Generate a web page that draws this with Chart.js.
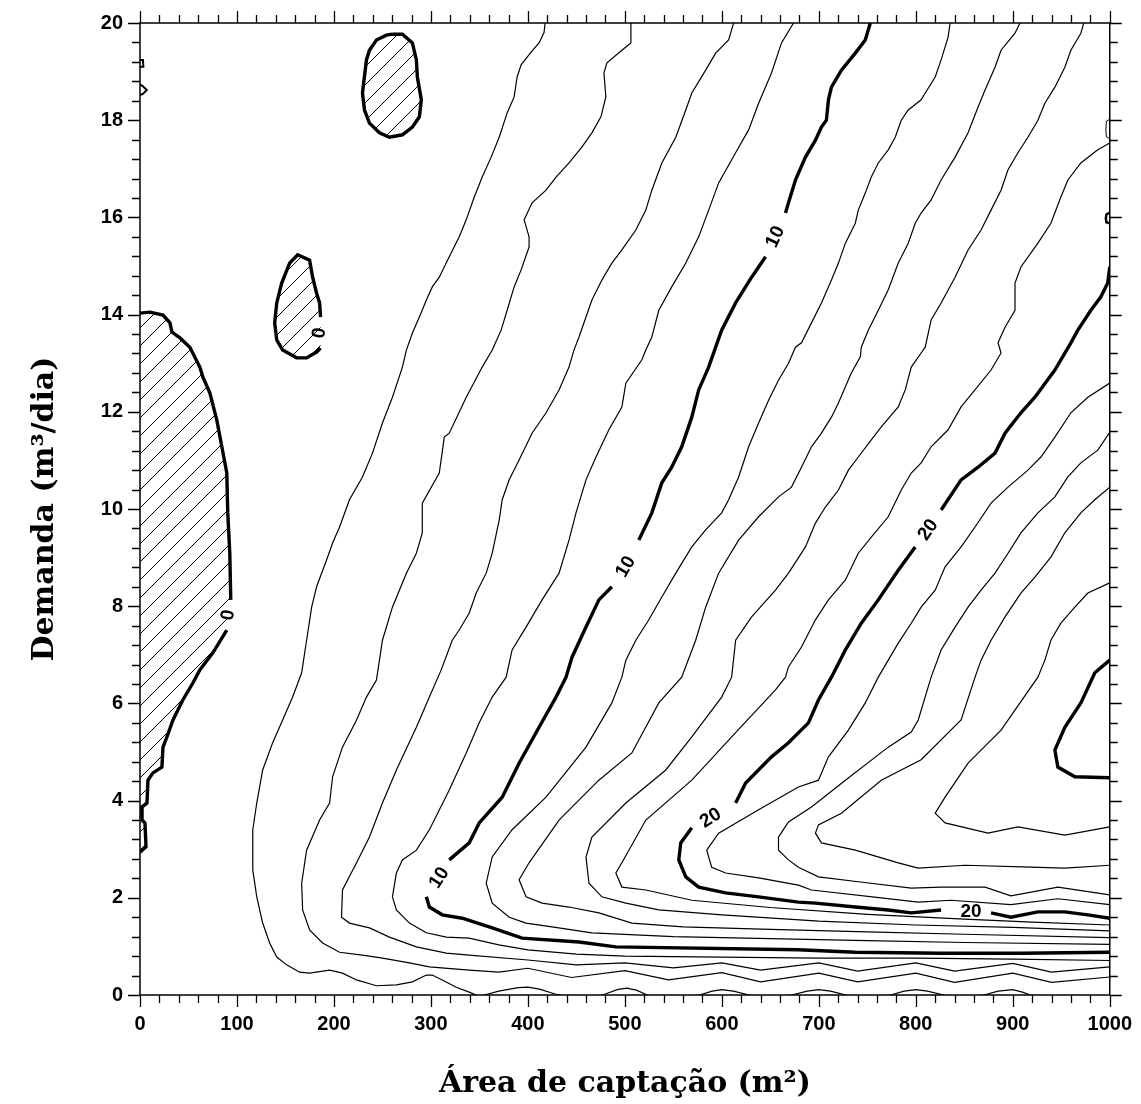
<!DOCTYPE html>
<html><head><meta charset="utf-8">
<script src="https://cdn.jsdelivr.net/npm/chart.js@4.4.0/dist/chart.umd.min.js"></script>
<style>html,body{margin:0;padding:0;background:#fff;}canvas{display:block;}</style>
</head><body>
<canvas id="c" width="1141" height="1104"></canvas>
<script>
// ---------- DATA ----------
const xTicks = [0,100,200,300,400,500,600,700,800,900,1000];
const yTicks = [0,2,4,6,8,10,12,14,16,18,20];
const xMinorStep = 20, yMinorStep = 0.4;

// contour 0 (negative region boundaries)
const c0LeftA = [[0,14.03],[10.3,14.05],[23.7,13.99],[30.9,13.83],[32.9,13.64],[41.2,13.52],[51.4,13.33],[61.7,12.92],[64.8,12.72],[72,12.39],[79.2,11.83],[84.4,11.28],[89.5,10.74],[90.5,9.92],[92.6,9.09],[93.6,8.13]];
const c0LeftB = [[89.5,7.51],[75.1,7.04],[61.7,6.69],[54.5,6.42],[44.2,6.07],[34,5.66],[27.8,5.31],[23.7,5.1],[22.6,4.69],[13.4,4.57],[8.2,4.42],[7.2,3.95],[2.1,3.87],[2.1,3.6],[5.1,3.54],[6.2,3.05],[0,2.94]];
const c0Island1 = [[260.3,19.77],[270.6,19.77],[280.9,19.59],[285,19.24],[286,18.89],[290.1,18.42],[288.1,18.07],[280.9,17.86],[270.6,17.7],[257.2,17.65],[246.9,17.74],[236.6,17.94],[231.5,18.21],[229.4,18.56],[233.5,19.24],[236.6,19.44],[243.8,19.65],[254.1,19.75],[260.3,19.77]];
const c0Island2 = [[186.2,13.31],[182.1,13.23],[171.8,13.11],[161.5,13.11],[147.1,13.27],[141,13.48],[138.9,13.83],[141,14.24],[146.1,14.65],[154.3,15.06],[162.6,15.23],[174.9,15.12],[178,14.77],[182.1,14.44],[185.2,14.24],[186.2,13.95]];
const c0TinyA = [[0,19.24],[3,19.24],[3.5,19.1],[0,19.1]];
const c0TinyB = [[0,18.74],[3,18.7],[7,18.62],[3,18.54],[0,18.52]];
const cTinyC = [[1000,18.02],[996.5,17.98],[996,17.8],[996.5,17.66],[1000,17.62]];
const cTinyD = [[1000,16.1],[996.5,16.06],[996,15.98],[996.5,15.9],[1000,15.88]];

const c2 = [[417.7,20],[416.7,19.81],[411.5,19.59],[403.3,19.4],[393,19.14],[388.9,18.89],[385.8,18.48],[378.6,18.15],[370.4,17.65],[362.1,17.24],[352.9,16.83],[344.7,16.42],[336.4,15.95],[329.2,15.6],[318.9,15.19],[308.6,14.77],[301.4,14.57],[295.3,14.3],[288.1,13.95],[280.9,13.62],[274.7,13.27],[270.6,12.92],[260.3,12.3],[250,11.77],[239.7,11.15],[229.4,10.66],[216,10.19],[205.8,9.63],[198.6,9.3],[192.4,8.95],[182.1,8.4],[177,7.98],[171.8,7.3],[166.7,6.63],[157.4,6.13],[147.1,5.66],[136.8,5.19],[126.5,4.63],[120.4,3.95],[116.3,3.4],[116.3,2.57],[120.4,2.02],[126.5,1.48],[133.7,1.07],[141,0.78],[151.2,0.62],[164.6,0.47],[174.9,0.45],[195.5,0.51],[208.8,0.45],[223.3,0.31],[243.8,0.19],[264.4,0.21],[280.9,0.27],[295.3,0.41],[301.4,0.41],[311.7,0.31],[326.1,0.16],[339.5,0.06],[350,-0.03],[370,0.08],[390,0.15],[400,0.16],[412,0.12],[428,0.02],[445,-0.06],[470,-0.04],[480,0.02],[492,0.11],[502,0.14],[512,0.1],[523,0],[550,-0.08],[577,0],[590,0.08],[600,0.11],[612,0.08],[628,0],[650,-0.08],[672,0],[688,0.08],[700,0.11],[712,0.08],[728,0],[750,-0.08],[774,0],[788,0.08],[800,0.11],[812,0.08],[829,0],[850,-0.08],[870,0],[885,0.08],[900,0.11],[910,0.06],[918,0],[950,-0.08],[1000,-0.1]];
const c4 = [[506.2,20],[506.2,19.59],[496.9,19.44],[481.5,19.18],[478.4,18.97],[480.4,18.48],[475.3,18.07],[466,17.74],[455.8,17.45],[442.4,17.12],[429,16.83],[418.7,16.56],[404.3,16.3],[396.1,15.95],[401.2,15.6],[401.2,15.39],[393,14.92],[385.8,14.57],[378.6,14.09],[372.4,13.68],[363.2,13.27],[352.9,12.92],[336.4,12.3],[318.9,11.56],[313.8,11.48],[308.6,10.74],[291.1,10.12],[291.1,9.51],[285,9.09],[274.7,8.68],[260.3,7.98],[250,7.3],[243.8,6.48],[233.5,6.13],[223.3,5.66],[208.8,5.1],[198.6,4.49],[195.5,3.95],[185.2,3.6],[171.8,2.98],[166.7,2.3],[167.7,1.75],[174.9,1.34],[188.3,1.07],[205.8,0.88],[229.4,0.82],[250,0.76],[277.8,0.66],[298.4,0.58],[339.5,0.51],[370,0.47],[400,0.55],[445,0.36],[500,0.5],[545,0.31],[600,0.46],[640,0.27],[700,0.45],[740,0.27],[800,0.45],[840,0.26],[900,0.45],[940,0.26],[1000,0.37]];
const c6 = [[612.1,20],[607,19.65],[593.6,19.38],[583.3,19.03],[569,18.56],[562.8,18.21],[552.5,17.65],[538.1,17.12],[527.8,16.56],[521.6,16.15],[511.3,15.74],[496.9,15.33],[486.6,15.06],[476.3,14.71],[466,14.3],[459.9,13.95],[452.7,13.54],[447.5,13.27],[442.4,12.92],[432.1,12.45],[418.7,11.98],[404.3,11.56],[390.9,11.01],[380.7,10.6],[373.5,10.19],[370.4,9.77],[363.2,9.09],[357,8.68],[346.7,8.27],[339.5,7.86],[329.2,7.51],[322,7.3],[310.6,6.69],[298.4,6.13],[285,5.51],[264.4,4.63],[250,3.95],[236.6,3.25],[223.3,2.72],[208.8,2.16],[207.8,1.6],[216,1.48],[236.6,1.38],[257.2,1.19],[285,0.99],[315.8,0.86],[339.5,0.82],[400,0.72],[450,0.62],[500,0.66],[550,0.56],[600,0.66],[640,0.51],[700,0.66],[740,0.49],[800,0.66],[840,0.49],[900,0.65],[940,0.47],[1000,0.58]];
const c8 = [[673.9,20],[661.5,19.59],[651.2,18.97],[637.9,18.35],[627.6,17.8],[614.2,17.33],[596.7,16.71],[586.4,16.15],[576.1,15.6],[562.8,15.06],[548.3,14.57],[535,14.09],[527.8,13.54],[521.6,13.27],[517.5,13.07],[501,12.59],[496.9,12.1],[483.5,11.63],[470.2,11.07],[459.9,10.6],[449.6,9.92],[442.4,9.36],[432.1,8.68],[414.6,8.13],[398.1,7.57],[383.7,7.1],[377.6,6.54],[363.2,6.13],[349.8,5.6],[336.4,4.98],[318.9,4.22],[298.4,3.4],[285,2.98],[270.6,2.78],[264.4,2.51],[260.3,2.02],[264.4,1.75],[277.8,1.48],[295.3,1.28],[315.8,1.19],[339.5,1.17],[370,1.03],[400,0.93],[450,0.84],[500,0.8],[600,0.78],[700,0.76],[800,0.76],[900,0.74],[1000,0.71]];
const c10a = [[753.1,20],[747.9,19.65],[737.6,19.38],[723.3,19.03],[713,18.68],[709.9,18.42],[707.8,18],[702.7,17.86],[696.5,17.59],[686.2,17.24],[675.9,16.77],[668.7,16.3],[665.6,16.09]];
const c10b = [[645.1,15.19],[630.7,14.77],[614.2,14.24],[599.8,13.68],[593.6,13.33],[586.4,12.92],[576.1,12.45],[569,11.89],[558.6,11.28],[548.3,10.86],[538.1,10.54],[527.8,9.92],[514.4,9.36]];
const c10c = [[486.6,8.4],[473.2,8.13],[459.9,7.57],[445.5,6.95],[439.3,6.54],[429,6.13],[411.5,5.51],[390.9,4.77],[373.5,4.07],[349.8,3.54],[339.5,3.13],[318.9,2.78]];
const c10d = [[295.3,2.02],[298.4,1.81],[311.7,1.65],[332.3,1.58],[363.2,1.38],[394,1.17],[452.7,1.09],[490.7,0.99],[679,0.93],[737.6,0.88],[826.1,0.86],[908.4,0.86],[1000,0.88]];
const c12 = [[835.4,20],[833.3,19.71],[826.1,19.24],[820,18.89],[809.7,18.56],[805.5,18.42],[792.2,18.21],[785,18],[778.8,17.65],[771.6,17.39],[761.3,17.12],[754.1,16.83],[747.9,16.5],[740.7,16.15],[737.6,15.88],[727.4,15.47],[720.2,15.06],[713,14.71],[702.7,14.24],[692.4,13.83],[682.1,13.42],[675.9,13.33],[668.7,13],[658.4,12.65],[648.2,12.24],[637.9,11.77],[627.6,11.28],[617.3,10.66],[607,10.19],[599.8,9.92],[583.3,9.57],[569,9.22],[552.5,8.68],[538.1,8.19],[524.7,7.72],[511.3,7.3],[501,6.89],[496.9,6.54],[486.6,6.01],[459.9,5.1],[418.7,4.07],[383.7,3.4],[363.2,2.84],[357,2.3],[363.2,1.89],[380.7,1.6],[398.1,1.48],[424.9,1.4],[466,1.28],[550,1.2],[650,1.16],[750,1.12],[850,1.08],[1000,1.04]];
const c14 = [[907.4,20],[902.3,19.79],[887.9,19.44],[881.7,19.09],[871.4,18.62],[864.2,18.27],[853.9,17.74],[840.5,17.24],[826.1,16.77],[815.8,16.36],[805.5,16.09],[799.4,15.88],[792.2,15.47],[781.9,15.06],[771.6,14.51],[761.3,14.09],[751,13.68],[743.8,13.33],[742.8,13.13],[733.5,12.8],[720.2,12.18],[713,11.89],[702.7,11.56],[692.4,11.28],[682.1,10.86],[671.8,10.45],[658.4,10.25],[637.9,9.84],[617.3,9.36],[596.7,8.68],[583.3,7.98],[573,7.3],[558.6,6.54],[535,6.01],[507.2,4.98],[473.2,4.42],[432.1,3.6],[401.2,2.72],[390.9,2.37],[398.1,2.02],[414.6,1.89],[442.4,1.81],[473.2,1.69],[507.2,1.48],[560,1.4],[650,1.35],[750,1.3],[850,1.25],[1000,1.18]];
const c16 = [[973.2,20],[970.2,19.79],[959.9,19.44],[953.7,19.09],[943.4,18.68],[933.1,18.35],[925.9,18],[915.6,17.65],[905.3,17.33],[895.1,16.98],[887.9,16.56],[877.6,16.15],[867.3,15.74],[853.9,15.33],[840.5,14.77],[826.1,14.24],[815.8,13.89],[809.7,13.33],[805.5,13.21],[795.3,12.92],[789.1,12.45],[781.9,12.1],[764.4,11.69],[754.1,11.42],[740.7,11.07],[730.5,10.8],[720.2,10.39],[706.8,10.04],[696.5,9.71],[686.2,9.22],[668.7,8.68],[655.3,8.33],[630.7,7.78],[614.2,7.3],[610.1,6.54],[599.8,6.13],[569,5.31],[542.2,4.63],[501,3.95],[466,3.25],[459.9,2.84],[463,2.3],[476.3,2.02],[501,1.89],[535,1.75],[600,1.65],[700,1.52],[800,1.44],[900,1.39],[1000,1.32]];
const c18 = [[1000,17.53],[987.6,17.39],[970.2,17.12],[956.8,16.77],[949.6,16.42],[939.3,15.88],[925.9,15.47],[908.4,14.98],[902.3,14.65],[902.3,14.09],[892,13.74],[884.8,13.42],[887.9,13.21],[877.6,12.86],[846.7,12.1],[833.3,11.63],[815.8,11.28],[805.5,10.95],[795.3,10.74],[785,10.39],[771.6,9.84],[754.1,9.42],[740.7,9.09],[727.4,8.54],[709.9,8.13],[696.5,7.72],[682.1,7.16],[668.7,6.75],[665.6,6.54],[655.3,6.28],[610.1,5.31],[569,4.42],[521.6,3.6],[496.9,2.72],[490.7,2.51],[496.9,2.22],[521.6,2.16],[569,1.95],[650,1.8],[750,1.66],[850,1.56],[920,1.5],[1000,1.44]];
const c20a = [[1000,14.98],[997.9,14.65],[990.7,14.36],[980.5,14.09],[967.1,13.68],[959.9,13.42],[943.4,12.86],[922.8,12.3],[908.4,11.98],[892,11.56],[881.7,11.15],[864.2,10.86],[846.7,10.6],[826.1,9.98]];
const c20b = [[799.4,9.22],[781.9,8.74],[761.3,8.13],[743.8,7.65],[727.4,7.1],[713,6.54],[699.6,6.07],[689.3,5.6],[668.7,5.19],[651.2,4.9],[624.5,4.36],[614.2,3.95]];
const c20c = [[569,3.44],[557.6,3.13],[555.6,2.78],[562.8,2.43],[576.1,2.22],[603.9,2.1],[637.9,2.02],[679,1.91],[696.5,1.89],[737.6,1.81],[771.6,1.75],[795.3,1.69],[826.1,1.75]];
const c20d = [[877.6,1.69],[898.1,1.6],[925.9,1.71],[953.7,1.71],[977.4,1.65],[1000,1.58]];
const c22 = [[1000,12.59],[977.4,12.3],[959.9,11.98],[943.4,11.48],[929,11.07],[915.6,10.8],[895.1,10.45],[877.6,10.12],[861.1,9.63],[846.7,9.22],[830.2,8.81],[820,8.33],[805.5,7.98],[795.3,7.65],[781.9,7.24],[771.6,6.89],[761.3,6.54],[747.9,6.01],[730.5,5.45],[709.9,4.9],[699.6,4.42],[679,4.28],[637.9,3.81],[596.7,3.33],[584.4,2.98],[589.5,2.63],[603.9,2.51],[637.9,2.41],[679,2.26],[692.4,2.16],[764.4,2],[802.5,1.91],[836.4,1.95],[898.1,1.86],[946.5,1.98],[1000,1.86]];
const c24 = [[1000,11.58],[987.6,11.21],[970.2,10.95],[956.8,10.66],[943.4,10.25],[925.9,9.92],[908.4,9.51],[895.1,9.09],[881.7,8.68],[867.3,8.33],[853.9,7.98],[840.5,7.57],[826.1,7.1],[815.8,6.54],[802.5,5.66],[795.3,5.41],[771.6,5.1],[727.4,4.42],[692.4,3.87],[668.7,3.56],[658.4,3.25],[658.4,2.98],[668.7,2.78],[679,2.63],[699.6,2.43],[740.7,2.33],[795.3,2.2],[826.1,2.22],[871.4,2.22],[898.1,2.04],[946.5,2.22],[1000,2.06]];
const c26 = [[1000,10.45],[984.6,10.19],[970.2,9.92],[953.7,9.51],[939.3,9.01],[922.8,8.6],[908.4,8.27],[892,7.78],[877.6,7.3],[867.3,6.89],[861.1,6.54],[846.7,5.66],[805.5,4.84],[764.4,4.42],[723.3,3.74],[699.6,3.5],[696.5,3.33],[702.7,3.13],[737.6,2.98],[781.9,2.72],[802.5,2.61],[850.8,2.67],[918.7,2.63],[953.7,2.61],[1000,2.67]];
const c28 = [[1000,8.48],[977.4,8.27],[964,7.98],[949.6,7.65],[939.3,7.3],[933.1,6.89],[925.9,6.54],[887.9,5.45],[853.9,4.77],[830.2,4.07],[820,3.74],[830.2,3.54],[874.5,3.33],[905.3,3.46],[953.7,3.29],[1000,3.46]];
const c30 = [[1000,6.89],[984.6,6.63],[970.2,6.01],[953.7,5.51],[943.4,5.04],[946.5,4.69],[964,4.49],[1000,4.47]];

// contour labels
const labelText  = ['0','0','10','10','10','20','20','20'];
const labelX     = [91,185.2,655.3,501,308.6,812.8,588.5,857];
const labelY     = [7.82,13.62,15.6,8.81,2.41,9.57,3.64,1.71];
const labelAngle = [-82,-82,-65,-60,-57,-55,-32,0];

// ---------- BUILD ----------
function hatchPattern(){
  const s = 18, cv = document.createElement('canvas');
  cv.width = s; cv.height = s;
  const g = cv.getContext('2d');
  g.strokeStyle = '#000'; g.lineWidth = 1;
  g.beginPath();
  g.moveTo(0, s); g.lineTo(s, 0);
  g.moveTo(-2, 2); g.lineTo(2, -2);
  g.moveTo(s-2, s+2); g.lineTo(s+2, s-2);
  g.stroke();
  return document.getElementById('c').getContext('2d').createPattern(cv, 'repeat');
}
const toPts = a => a.map(p => ({x: p[0], y: p[1]}));
const thin = 1.2, thick = 3.4;
function line(a, w){ return {data: toPts(a), showLine: true, borderColor: '#000', borderWidth: w, pointRadius: 0, pointHoverRadius: 0, fill: false, tension: 0, clip: 0}; }
const pat = hatchPattern();
function area(a){ return {data: toPts(a), showLine: true, borderColor: 'rgba(0,0,0,0)', borderWidth: 1, backgroundColor: pat, fill: 'shape', pointRadius: 0, tension: 0, clip: 0}; }

const datasets = [
  area(c0LeftA.concat(c0LeftB)), area(c0Island1), area(c0Island2),
  line(c0LeftA, thick), line(c0LeftB, thick), line(c0Island1, thick), line(c0Island2, thick),
  line(c0TinyA, 2), line(c0TinyB, 2), line(cTinyC, 1), line(cTinyD, 2.5),
  line(c2, thin), line(c4, thin), line(c6, thin), line(c8, thin),
  line(c10a, thick), line(c10b, thick), line(c10c, thick), line(c10d, thick),
  line(c12, thin), line(c14, thin), line(c16, thin), line(c18, thin),
  line(c20a, thick), line(c20b, thick), line(c20c, thick), line(c20d, thick),
  line(c22, thin), line(c24, thin), line(c26, thin), line(c28, thin),
  line(c30, thick)
];

const framePlugin = {
  id: 'frame',
  afterDraw(chart){
    const {ctx, chartArea: a, scales: {x, y}} = chart;
    ctx.save();
    ctx.strokeStyle = '#000'; ctx.lineWidth = 1.5;
    ctx.strokeRect(a.left, a.top, a.right - a.left, a.bottom - a.top);
    ctx.beginPath(); ctx.lineWidth = 1.3;
    const nx = Math.round((x.max - x.min) / xMinorStep);
    for (let i = 0; i <= nx; i++){
      const v = x.min + i * xMinorStep;
      const px = Math.round(x.getPixelForValue(v)) + 0.5;
      const L = (i % 5 === 0) ? 12 : 8;
      ctx.moveTo(px, a.bottom); ctx.lineTo(px, a.bottom + L);
      ctx.moveTo(px, a.top); ctx.lineTo(px, a.top - L);
    }
    const ny = Math.round((y.max - y.min) / yMinorStep);
    for (let i = 0; i <= ny; i++){
      const v = y.min + i * yMinorStep;
      const py = Math.round(y.getPixelForValue(v)) + 0.5;
      const L = (i % 5 === 0) ? 12 : 8;
      ctx.moveTo(a.left, py); ctx.lineTo(a.left - L, py);
      ctx.moveTo(a.right, py); ctx.lineTo(a.right + L, py);
    }
    ctx.stroke();
    ctx.restore();
  }
};
const labelPlugin = {
  id: 'clabels',
  afterDatasetsDraw(chart){
    const {ctx, scales: {x, y}} = chart;
    ctx.save();
    ctx.fillStyle = '#000';
    ctx.font = 'bold 19px "Liberation Sans", Arial, sans-serif';
    ctx.textAlign = 'center'; ctx.textBaseline = 'middle';
    for (let i = 0; i < labelText.length; i++){
      ctx.save();
      ctx.translate(x.getPixelForValue(labelX[i]), y.getPixelForValue(labelY[i]));
      ctx.rotate(labelAngle[i] * Math.PI / 180);
      ctx.fillText(labelText[i], 0, 0);
      ctx.restore();
    }
    ctx.restore();
  }
};

const tickFont = {family: '"Liberation Sans", Arial, sans-serif', weight: 'bold', size: 20};
const titleFont = {family: '"DejaVu Serif", serif', weight: 'bold', size: 30};

new Chart(document.getElementById('c'), {
  type: 'scatter',
  data: {datasets},
  options: {
    responsive: false, animation: false, events: [],
    layout: {autoPadding: false, padding: {top: 23, right: 29, left: 0, bottom: 0}},
    plugins: {legend: {display: false}, tooltip: {enabled: false}},
    scales: {
      x: {
        type: 'linear', position: 'bottom', min: 0, max: 1000,
        grid: {display: false}, border: {display: false},
        afterBuildTicks: s => { s.ticks = xTicks.map(v => ({value: v})); },
        ticks: {font: tickFont, color: '#000', padding: 9, maxRotation: 0, autoSkip: false, callback: v => String(v)},
        title: {display: true, text: 'Área de captação (m²)', font: titleFont, color: '#000', padding: {top: 0, bottom: 2}},
        afterFit: s => { s.height = 109; }
      },
      y: {
        type: 'linear', position: 'left', min: 0, max: 20,
        grid: {display: false}, border: {display: false},
        afterBuildTicks: s => { s.ticks = yTicks.map(v => ({value: v})); },
        ticks: {font: tickFont, color: '#000', padding: 9, autoSkip: false, callback: v => String(v)},
        title: {display: true, text: 'Demanda (m³/dia)', font: titleFont, color: '#000', padding: {top: 27, bottom: 0}},
        afterFit: s => { s.width = 140; }
      }
    }
  },
  plugins: [labelPlugin, framePlugin]
});
</script>
</body></html>
